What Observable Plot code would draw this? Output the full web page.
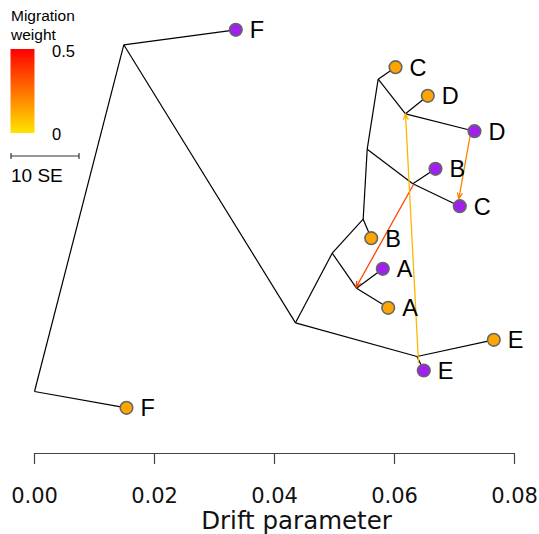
<!DOCTYPE html>
<html>
<head>
<meta charset="utf-8">
<script src="https://cdn.jsdelivr.net/npm/d3@7"></script>
<script src="https://cdn.jsdelivr.net/npm/@observablehq/plot@0.6"></script>
<style>
  html, body { margin: 0; padding: 0; background: #fff; }
  #wrap { position: relative; width: 539px; height: 534px; }
  #legend { position: absolute; left: 0; top: 0; }
</style>
</head>
<body>
<div id="wrap"></div>
<script>
// ---- internal nodes (drift, vertical layout position 0..1) ----
const nodeName  = ["root","n1","n2","n3","n4","n5","n6","n7","n8","n9","n10"];
const nodeDrift = [0, 0.01488, 0.0435, 0.04962, 0.05478, 0.05367, 0.06375, 0.05728, 0.06183, 0.05545, 0.06305];
const nodeY     = [0.1432, 0.9439, 0.3018, 0.4626, 0.5411, 0.3818, 0.2240, 0.8644, 0.7845, 0.7028, 0.6229];

// ---- leaves ----
const leafName  = ["F_o","F_p","E_o","E_p","A_p","A_o","B_o","C_o","D_o","D_p","B_p","C_p"];
const leafLabel = ["F","F","E","E","A","A","B","C","D","D","B","C"];
const leafSet   = ["o","p","o","p","p","o","o","o","o","p","p","p"];
const leafDrift = [0.01533, 0.03355, 0.07655, 0.06488, 0.05805, 0.05895, 0.05612, 0.06017, 0.06555, 0.07333, 0.06683, 0.07088];
const leafY     = [0.1055, 0.9785, 0.2626, 0.1917, 0.4266, 0.3365, 0.4972, 0.8922, 0.8261, 0.7443, 0.6575, 0.5711];

// ---- tree edges ----
const edgeFrom = ["root","root","n1","n1","n2","n2","n6","n6","n3","n3","n5","n5","n4","n4","n9","n9","n7","n7","n8","n8","n10","n10"];
const edgeTo   = ["n1","F_o","F_p","n2","n3","n6","E_o","E_p","n4","n5","A_p","A_o","B_o","n9","n7","n10","C_o","n8","D_o","D_p","B_p","C_p"];

// ---- migration edges ----
const migDriftFrom = [0.06317, 0.07258, 0.0640];
const migYFrom     = [0.6212, 0.7321, 0.2102];
const migDriftTo   = [0.05358, 0.07072, 0.06183];
const migYTo       = [0.3834, 0.5882, 0.7845];
const migWeight    = [0.35, 0.22, 0.10];

// ---- axis ----
const xTicks = [0, 0.02, 0.04, 0.06, 0.08];
const xLabel = "Drift parameter";
const legendTitle = ["Migration", "weight"];
const legendTicks = ["0.5", "0"];
const scaleBarLabel = "10 SE";

const setColor = {o: "#FFA500", p: "#A020F0"};

// tables built from arrays
const pos = new Map();
nodeName.forEach((n, i) => pos.set(n, [nodeDrift[i], nodeY[i]]));
leafName.forEach((n, i) => pos.set(n, [leafDrift[i], leafY[i]]));
const edges = edgeFrom.map((f, i) => ({x1: pos.get(f)[0], y1: pos.get(f)[1], x2: pos.get(edgeTo[i])[0], y2: pos.get(edgeTo[i])[1]}));
const leaves = leafName.map((n, i) => ({x: leafDrift[i], y: leafY[i], label: leafLabel[i], fill: setColor[leafSet[i]]}));
const migs = migWeight.map((w, i) => ({x1: migDriftFrom[i], y1: migYFrom[i], x2: migDriftTo[i], y2: migYTo[i], w}));

const colorRange = ["#FFE400", "#FF0000"];

const plot = Plot.plot({
  width: 539,
  height: 534,
  marginLeft: 34,
  marginRight: 25,
  marginTop: 20,
  marginBottom: 81,
  style: {background: "#fff", overflow: "visible"},
  x: {domain: [0, 0.08], axis: null},
  y: {domain: [0, 1], axis: null},
  color: {type: "linear", domain: [0, 0.5], range: colorRange, interpolate: "hsl"},
  marks: [
    Plot.link(edges, {x1: "x1", y1: "y1", x2: "x2", y2: "y2", stroke: "#000", strokeWidth: 1.2}),
    Plot.arrow(migs, {x1: "x1", y1: "y1", x2: "x2", y2: "y2", stroke: "w", strokeWidth: 1.3, headLength: 7, headAngle: 45, bend: 0}),
    Plot.dot(leaves, {x: "x", y: "y", r: 6.3, fill: "fill", stroke: "#666", strokeWidth: 1.6}),
    Plot.text(leaves, {x: "x", y: "y", text: "label", textAnchor: "start", dx: 14, dy: 1, fontSize: 23.5, fontFamily: "Liberation Sans, Arial, sans-serif", fill: "#000"}),
    Plot.ruleY([0], {x1: 0, x2: 0.08, stroke: "#444", strokeWidth: 1.2}),
    Plot.axisX({ticks: xTicks, tickFormat: d3.format(".2f"), tickSize: 11, tickPadding: 24, fontSize: 21, fontFamily: "DejaVu Sans, sans-serif", stroke: "#444", strokeWidth: 1.2, color: "#111", label: null}),
    Plot.text([xLabel], {frameAnchor: "bottom", lineAnchor: "middle", dx: 22, dy: 68, fontSize: 24.5, fontFamily: "DejaVu Sans, sans-serif", fill: "#111"})
  ]
});
document.getElementById("wrap").appendChild(plot);

// ---- legend overlay ----
const lg = d3.select("#wrap").append("svg").attr("id", "legend").attr("width", 120).attr("height", 200);
const grad = lg.append("defs").append("linearGradient").attr("id", "mg").attr("x1", 0).attr("y1", 1).attr("x2", 0).attr("y2", 0);
d3.range(0, 1.0001, 0.05).forEach(t => grad.append("stop").attr("offset", t).attr("stop-color", d3.interpolateHsl(...colorRange)(t)));
const ff = "Liberation Sans, Arial, sans-serif";
lg.append("text").attr("x", 11).attr("y", 21).attr("font-family", ff).attr("font-size", 15.5).text(legendTitle[0]);
lg.append("text").attr("x", 11).attr("y", 40).attr("font-family", ff).attr("font-size", 15.5).text(legendTitle[1]);
lg.append("rect").attr("x", 10.5).attr("y", 49).attr("width", 24).attr("height", 84).attr("fill", "url(#mg)");
lg.append("text").attr("x", 52).attr("y", 57).attr("font-family", ff).attr("font-size", 16.5).text(legendTicks[0]);
lg.append("text").attr("x", 52).attr("y", 140).attr("font-family", ff).attr("font-size", 16.5).text(legendTicks[1]);
const sb = lg.append("g").attr("stroke", "#333").attr("stroke-width", 1.2);
sb.append("line").attr("x1", 11).attr("x2", 79).attr("y1", 156).attr("y2", 156);
sb.append("line").attr("x1", 11).attr("x2", 11).attr("y1", 153).attr("y2", 159);
sb.append("line").attr("x1", 79).attr("x2", 79).attr("y1", 153).attr("y2", 159);
lg.append("text").attr("x", 11).attr("y", 182).attr("font-family", ff).attr("font-size", 19).text(scaleBarLabel);
</script>
</body>
</html>
